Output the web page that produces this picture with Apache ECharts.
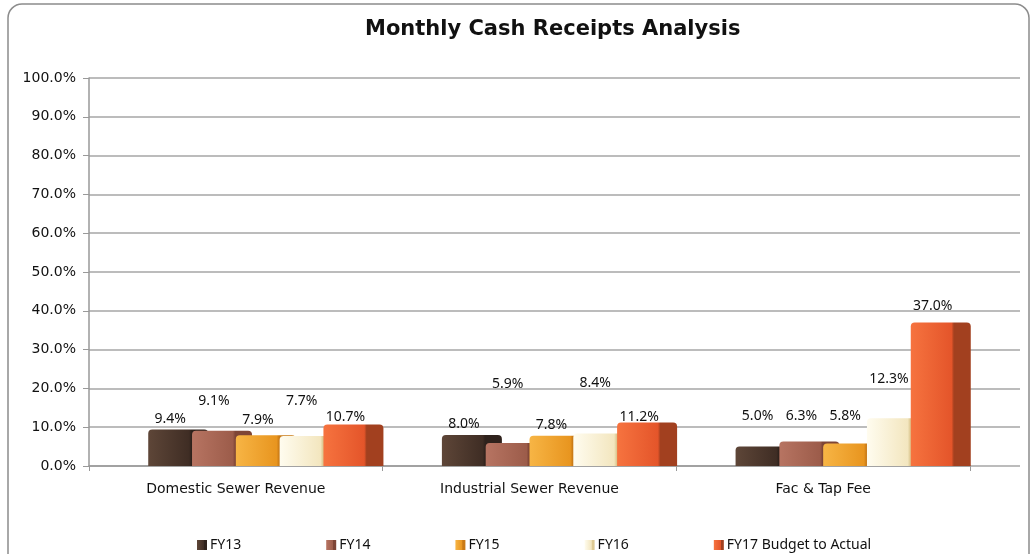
<!DOCTYPE html>
<html><head><meta charset="utf-8">
<script src="https://cdn.jsdelivr.net/npm/echarts@6/dist/echarts.min.js"></script>
<style>html,body{margin:0;padding:0;background:#fff}#c{width:1036px;height:554px}</style>
</head><body><div id="c"></div>
<script>
const categories = ['Domestic Sewer Revenue', 'Industrial Sewer Revenue', 'Fac & Tap Fee'];
const seriesNames = ['FY13', 'FY14', 'FY15', 'FY16', 'FY17 Budget to Actual'];
const fy13 = [9.4, 8.0, 5.0];
const fy14 = [9.1, 5.9, 6.3];
const fy15 = [7.9, 7.8, 5.8];
const fy16 = [7.7, 8.4, 12.3];
const fy17 = [10.7, 11.2, 37.0];
const yMin = 0, yMax = 100, yStep = 10;

// styling: [front light, front dark, side] per series
const palette = [
  ['#5e4638', '#3f2d24', '#2f221c'],
  ['#b77462', '#9c5c4a', '#7e4536'],
  ['#f7b545', '#e8951f', '#c97a16'],
  ['#fffcef', '#f3e6bf', '#ddc993'],
  ['#f6733f', '#e4552a', '#a2401f']
];
// vertical label lift per series per category (label layout only)
const labelLift = [[0, 0, 20], [19, 48, 15], [4, 0, 16], [24, 39, 28], [-4, -5, 5]];

const allData = [fy13, fy14, fy15, fy16, fy17];
const font = 'Noto Sans';
const wideFont = 'DejaVu Sans';

function grad(c) {
  return new echarts.graphic.LinearGradient(0, 0, 1, 0, [
    {offset: 0, color: c[0]}, {offset: 0.68, color: c[1]},
    {offset: 0.72, color: c[2]}, {offset: 1, color: c[2]}
  ]);
}

const series = allData.map((arr, si) => ({
  name: seriesNames[si],
  type: 'bar',
  xAxisIndex: 2, yAxisIndex: 2,
  barWidth: 60,
  barGap: '-27%',
  itemStyle: {color: grad(palette[si]), borderRadius: [4, 4, 0, 0]},
  label: {
    show: true, position: 'top', distance: 4,
    color: '#111', fontFamily: font, fontSize: 14,
    formatter: p => p.value.toFixed(1) + '%'
  },
  data: arr.map((v, ci) => ({value: v, label: {offset: [-8, -labelLift[si][ci]]}}))
}));

const chart = echarts.init(document.getElementById('c'));
chart.setOption({
  animation: false,
  backgroundColor: '#fff',
  textStyle: {fontFamily: font},
  title: {
    text: 'Monthly Cash Receipts Analysis', left: 360, top: 14,
    textStyle: {fontFamily: wideFont, fontSize: 21, fontWeight: 'bold', color: '#111'}
  },
  legend: {
    data: seriesNames, left: 192, top: 533, icon: 'rect',
    itemWidth: 10, itemHeight: 10, itemGap: 85,
    textStyle: {fontFamily: font, fontSize: 14, color: '#111', padding: [0, 0, 0, -2]}
  },
  graphic: [{
    type: 'rect', z: -10,
    shape: {x: 8, y: 4, width: 1021, height: 580, r: 14},
    style: {fill: 'none', stroke: '#8c8c8c', lineWidth: 1.5}
  }],
  grid: [
    {left: 89, top: 78, width: 931, height: 388},
    {left: 89, top: 78, width: 881, height: 388},
    {left: 119, top: 78, width: 881, height: 388}
  ],
  xAxis: [
    {gridIndex: 0, type: 'value', show: false, min: 0, max: 1},
    {gridIndex: 1, type: 'category', data: categories,
      axisLine: {show: true, lineStyle: {color: '#999', width: 1.5}},
      axisTick: {show: true, length: 5, lineStyle: {color: '#999'}},
      axisLabel: {color: '#111', fontFamily: wideFont, fontSize: 14, margin: 16}},
    {gridIndex: 2, type: 'category', data: categories, show: false}
  ],
  yAxis: [
    {gridIndex: 0, type: 'value', min: yMin, max: yMax, interval: yStep,
      axisLine: {show: true, lineStyle: {color: '#999', width: 1.5}},
      axisTick: {show: true, length: 6, lineStyle: {color: '#999'}},
      splitLine: {show: true, lineStyle: {color: '#a6a6a6', width: 1.5}},
      axisLabel: {color: '#111', fontFamily: wideFont, fontSize: 14, margin: 13,
        formatter: v => v.toFixed(1) + '%'}},
    {gridIndex: 1, type: 'value', min: yMin, max: yMax, show: false, splitLine: {show: false}},
    {gridIndex: 2, type: 'value', min: yMin, max: yMax, show: false, splitLine: {show: false}}
  ],
  series: series
});
</script></body></html>
